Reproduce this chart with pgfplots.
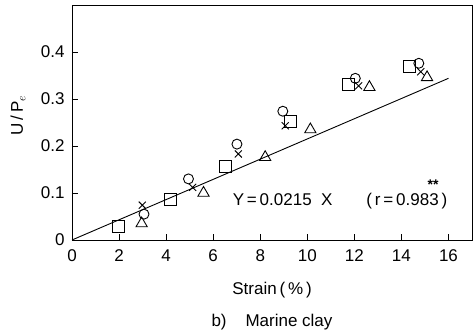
\documentclass[border=0pt]{standalone}
\usepackage{pgfplots}
\pgfplotsset{compat=1.18}
\usepackage{fontspec}
\setmainfont{Liberation Sans}
\newcommand{\lab}{\fontsize{17}{19}\selectfont}
\begin{document}
\begin{tikzpicture}[x=1pt,y=1pt]
\path[use as bounding box] (-72,-96) rectangle (402,240);
\begin{axis}[
  at={(0,0)}, anchor=south west,
  scale only axis, width=400pt, height=235pt,
  xmin=0, xmax=17, ymin=0, ymax=0.5,
  axis line style={line width=0.9pt},
  xtick={0,2,4,6,8,10,12,14,16},
  ytick={0,0.1,0.2,0.3,0.4},
  yticklabels={0,0.1,0.2,0.3,0.4},
  xtick pos=bottom, ytick pos=left,
  tick align=inside, major tick length=6pt,
  tick style={line width=0.8pt,black},
  /pgf/number format/assume math mode=true,
  tick label style={font=\lab},
  xticklabel style={yshift=-6pt},
  yticklabel style={xshift=-4pt},
  clip=false,
]
\addplot[black, line width=0.9pt] coordinates {(0,0) (16,0.344)};
% squares
\addplot[only marks, mark=square, mark size=6pt, mark options={line width=0.9pt}] coordinates {
(1.97,0.028) (4.17,0.087) (6.51,0.156) (9.28,0.252) (11.76,0.330) (14.35,0.369)};
% circles
\addplot[only marks, mark=o, mark size=5pt, mark options={line width=0.9pt}] coordinates {
(3.06,0.055) (4.95,0.130) (7.01,0.204) (8.96,0.274) (12.04,0.344) (14.74,0.376)};
% crosses
\addplot[only marks, mark=x, mark size=5pt, mark options={line width=0.9pt}] coordinates {
(2.99,0.074) (5.13,0.112) (7.07,0.183) (9.06,0.243) (12.18,0.328) (14.82,0.358)};
% triangles
\addplot[only marks, mark=triangle, mark size=6.5pt, mark options={line width=0.9pt}] coordinates {
(2.96,0.035) (5.59,0.100) (8.21,0.176) (10.13,0.235) (12.64,0.325) (15.09,0.346)};
\node[font=\lab, anchor=east] at (axis cs:16.1,0.083)
  {Y\,=\,0.0215\;\;X\qquad(\,r\,=\,0.983\,)};
\node[font=\fontsize{14}{16}\selectfont\bfseries] at (axis cs:15.35,0.118) {**};
\node[font=\lab] at ([yshift=-50pt]rel axis cs:0.5,0) {Strain\,(\,\%\,)};
\node[font=\lab, rotate=90] at ([xshift=-54pt]rel axis cs:0,0.53) {U\,/\,P$_e$};
\node[font=\lab] at ([yshift=-82pt]rel axis cs:0.5,0) {b)\;\;\; Marine clay};
\end{axis}
\end{tikzpicture}
\end{document}
